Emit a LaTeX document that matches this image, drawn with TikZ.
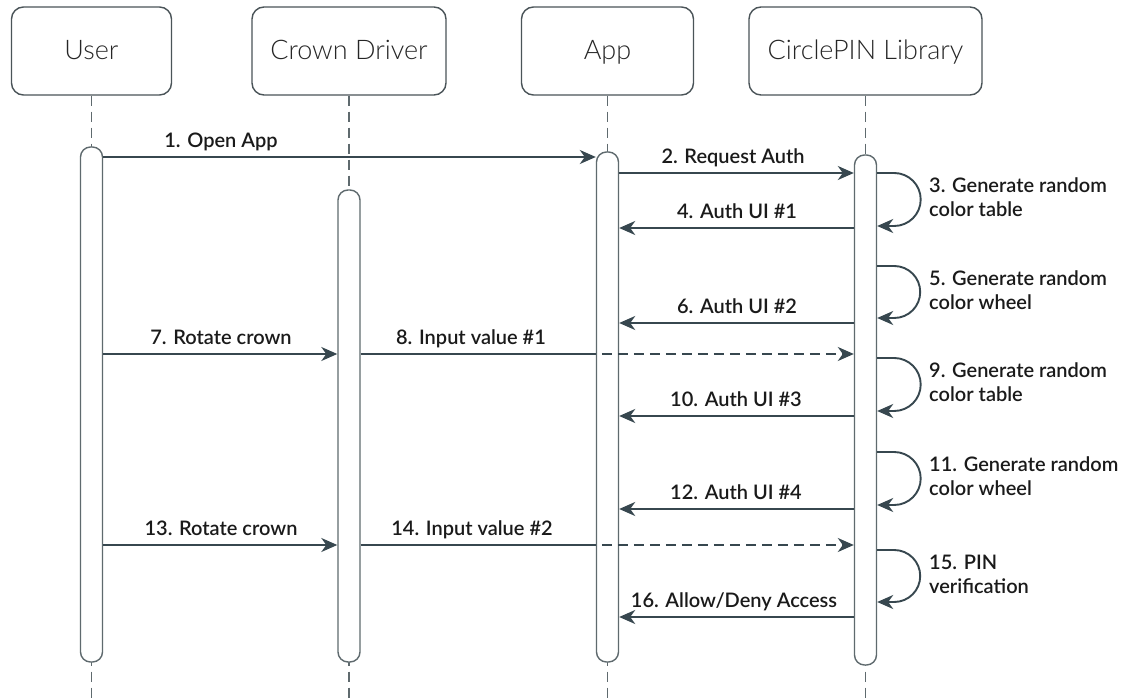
\documentclass[tikz,border=0pt]{standalone}
\usepackage{fontspec}
\usetikzlibrary{arrows.meta}
\IfFontExistsTF{Lato Light}{\newfontfamily\headfont{Lato Light}}{\newfontfamily\headfont{Lato}}
\IfFontExistsTF{Lato Semibold}{\newfontfamily\lblfont{Lato Semibold}}{%
  \IfFontExistsTF{Lato Medium}{\newfontfamily\lblfont{Lato Medium}}{\newfontfamily\lblfont{Lato}}}
\setmainfont{Lato}

\definecolor{linec}{HTML}{37474F}
\definecolor{barc}{HTML}{5F6A6E}
\definecolor{boxc}{HTML}{4A5458}
\definecolor{txtc}{HTML}{1A1A1A}
\definecolor{headc}{HTML}{262626}

\tikzset{
  head/.style={draw=boxc, line width=1.4pt, rounded corners=12pt, minimum height=88pt,
    inner sep=0pt, text height=21pt, text depth=3pt, text=headc,
    font=\headfont\fontsize{27}{31}\selectfont},
  life/.style={draw=barc, line width=1.4pt, dash pattern=on 10pt off 6pt},
  actbar/.style={draw=barc, fill=white, line width=1.4pt, rounded corners=10pt,
    minimum width=22pt, inner sep=0pt},
  msg/.style={draw=linec, line width=1.9pt,
    -{Stealth[length=16pt, width=14pt, inset=5pt]}},
  msgline/.style={draw=linec, line width=1.9pt},
  lbl/.style={text=txtc, inner sep=0pt, font=\lblfont\fontsize{20}{24}\selectfont},
  note/.style={lbl, align=left, anchor=west},
}

\begin{document}
\begin{tikzpicture}[x=1pt, y=-1pt]
  \useasboundingbox[fill=white] (0,0) rectangle (1130,700);

  % participants
  \node[head, minimum width=160pt] (user) at (91.5,51) {User};
  \node[head, minimum width=194pt] (crown) at (349,51) {Crown Driver};
  \node[head, minimum width=172pt] (app) at (607.5,51) {App};
  \node[head, minimum width=233pt] (lib) at (865.5,51) {CirclePIN Library};

  % lifelines
  \foreach \p in {user, crown, app, lib}
    \draw[life] (\p.south) -- (\p.south |- 0,700);

  % activation bars
  \node[actbar, minimum height=515pt] (ubar) at (91.5,404.5) {};
  \node[actbar, minimum height=472pt] (cbar) at (349,426) {};
  \node[actbar, minimum height=510pt] (abar) at (607.5,407) {};
  \node[actbar, minimum height=510pt] (lbar) at (865.5,410) {};

  % 1
  \draw[msg] (ubar.east |- 0,157) -- (abar.west |- 0,157);
  \node[lbl, anchor=base] (t1) at (221,148) {1. Open App};
  % 2
  \draw[msg] (abar.east |- 0,173) -- (lbar.west |- 0,173);
  \node[lbl, anchor=base] (t2) at (733,163.5) {2. Request Auth};
  % 3
  \draw[msg] (lbar.east |- 0,173) -- ++(17,0) arc[start angle=90, end angle=-90, radius=26.5pt] -- (lbar.east |- 0,226);
  \node[note] (t3) at (929,197) {3. Generate random\\color table};
  % 4
  \draw[msg] (lbar.west |- 0,228) -- (abar.east |- 0,228);
  \node[lbl, anchor=base] (t4) at (737,218.5) {4. Auth UI \#1};
  % 5
  \draw[msg] (lbar.east |- 0,266) -- ++(17,0) arc[start angle=90, end angle=-90, radius=26pt] -- (lbar.east |- 0,318);
  \node[note] (t5) at (929,290) {5. Generate random\\color wheel};
  % 6
  \draw[msg] (lbar.west |- 0,323) -- (abar.east |- 0,323);
  \node[lbl, anchor=base] (t6) at (737,313.5) {6. Auth UI \#2};
  % 7
  \draw[msg] (ubar.east |- 0,354) -- (cbar.west |- 0,354);
  \node[lbl, anchor=base] (t7) at (221,344.5) {7. Rotate crown};
  % 8
  \draw[msgline] (cbar.east |- 0,354) -- (abar.west |- 0,354);
  \draw[msg, dash pattern=on 10pt off 6pt, dash phase=10pt] (abar.west |- 0,354) -- (lbar.west |- 0,354);
  \node[lbl, anchor=base] (t8) at (471,344.5) {8. Input value \#1};
  % 9
  \draw[msg] (lbar.east |- 0,358) -- ++(17,0) arc[start angle=90, end angle=-90, radius=26.5pt] -- (lbar.east |- 0,411);
  \node[note] (t9) at (929,382) {9. Generate random\\color table};
  % 10
  \draw[msg] (lbar.west |- 0,416) -- (abar.east |- 0,416);
  \node[lbl, anchor=base] (t10) at (736,406.5) {10. Auth UI \#3};
  % 11
  \draw[msg] (lbar.east |- 0,452) -- ++(17,0) arc[start angle=90, end angle=-90, radius=26.5pt] -- (lbar.east |- 0,505);
  \node[note] (t11) at (929,476) {11. Generate random\\color wheel};
  % 12
  \draw[msg] (lbar.west |- 0,509) -- (abar.east |- 0,509);
  \node[lbl, anchor=base] (t12) at (736,499.5) {12. Auth UI \#4};
  % 13
  \draw[msg] (ubar.east |- 0,545) -- (cbar.west |- 0,545);
  \node[lbl, anchor=base] (t13) at (221,535.5) {13. Rotate crown};
  % 14
  \draw[msgline] (cbar.east |- 0,545) -- (abar.west |- 0,545);
  \draw[msg, dash pattern=on 10pt off 6pt, dash phase=10pt] (abar.west |- 0,545) -- (lbar.west |- 0,545);
  \node[lbl, anchor=base] (t14) at (472,535.5) {14. Input value \#2};
  % 15
  \draw[msg] (lbar.east |- 0,550) -- ++(17,0) arc[start angle=90, end angle=-90, radius=26pt] -- (lbar.east |- 0,602);
  \node[note] (t15) at (929,574) {15. PIN\\verification};
  % 16
  \draw[msg] (lbar.west |- 0,617) -- (abar.east |- 0,617);
  \node[lbl, anchor=base] (t16) at (734,607.5) {16. Allow/Deny Access};
\end{tikzpicture}
\end{document}
